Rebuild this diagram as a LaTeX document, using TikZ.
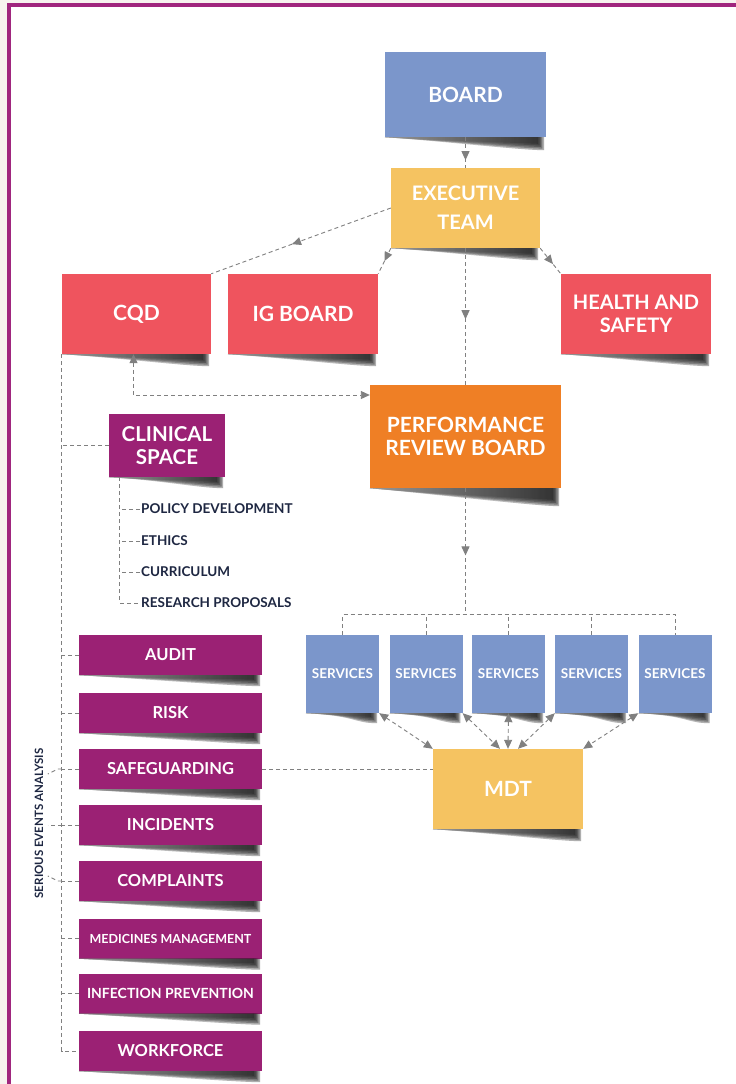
\documentclass[tikz,border=0pt]{standalone}
\usepackage{fontspec}
\setmainfont{Lato}
\usetikzlibrary{arrows.meta,calc,decorations.markings}
\definecolor{cblue}{HTML}{7B96CB}
\definecolor{cyel}{HTML}{F5C361}
\definecolor{cred}{HTML}{EF545E}
\definecolor{corg}{HTML}{EF7F25}
\definecolor{cpur}{HTML}{9B2174}
\definecolor{cframe}{HTML}{A0267E}
\definecolor{cline}{HTML}{808080}
\definecolor{cnavy}{HTML}{1E2742}
\definecolor{cstrip}{HTML}{F7F3EF}
\tikzset{
  box/.style={rectangle, inner sep=0pt, text=white, align=center},
  bigtxt/.style={font=\bfseries\fontsize{21}{25}\selectfont},
  dl/.style={draw=cline, line width=0.9pt, dash pattern=on 4pt off 3pt},
  bitip/.style={arrows={Triangle[length=9pt,width=8pt]-Triangle[length=9pt,width=8pt]}},
  midarr/.style={postaction={decorate,decoration={markings,mark=at position #1 with {\arrow{Triangle[length=9pt,width=8pt]}}}}},
  sub/.style={anchor=west, inner sep=1pt, text=cnavy, font=\bfseries\fontsize{13.5}{15}\selectfont},
  pbox/.style={box, fill=cpur, minimum width=183pt, minimum height=40pt},
  ptxt/.style={font=\bfseries\fontsize{16.5}{18}\selectfont},
  sbox/.style={box, fill=cblue, minimum width=73pt, minimum height=78pt, font=\bfseries\fontsize{13.5}{15}\selectfont},
}
\newcommand\shadowof[2][12]{%
  \foreach \k in {0,...,4}{%
    \fill[left color=white, right color=black!80, opacity=0.2] (#2.south west) -- ($(#2.south east)+(-2-1.5*\k,0)$) -- ($(#2.south east)+(-2-1.5*\k,#1-1.6*\k)$) .. controls ($(#2.south east)+(-25,#1-1.8*\k)$) and ($(#2.south west)+(50,0.25*#1)$) .. (#2.south west);
  }}
\begin{document}
\begin{tikzpicture}[x=1pt,y=-1pt]
\useasboundingbox (0,0) rectangle (736,1084);
\fill[white] (0,0) rectangle (736,1084);
\fill[cstrip] (0,0) rectangle (7,1084);
\fill[cstrip] (0,0) rectangle (736,3.3);
\draw[cframe, line width=4pt] (8.7,1084) -- (8.7,5.3) -- (736,5.3);

% main boxes
\node[box, bigtxt, fill=cblue, minimum width=161pt, minimum height=85pt] (board) at (465.5,94.5) {BOARD};
\node[box, fill=cyel, minimum width=149pt, minimum height=80pt, font=\bfseries\fontsize{20}{29}\selectfont] (exec) at (465.5,208) {EXECUTIVE\\TEAM};
\node[box, bigtxt, fill=cred, minimum width=149pt, minimum height=80pt] (cqd) at (136.5,314) {CQD};
\node[box, bigtxt, fill=cred, minimum width=150pt, minimum height=80pt] (ig) at (303,314) {IG BOARD};
\node[box, bigtxt, fill=cred, minimum width=150pt, minimum height=80pt, font=\bfseries\fontsize{20}{23.5}\selectfont] (hs) at (636,314) {HEALTH AND\\SAFETY};
\node[box, bigtxt, fill=corg, minimum width=191pt, minimum height=103pt, font=\bfseries\fontsize{21}{23.5}\selectfont] (prb) at (465.5,436.5) {PERFORMANCE\\REVIEW BOARD};
\node[sbox] (s1) at (342.5,674) {SERVICES};
\node[sbox] (s2) at (426,674) {SERVICES};
\node[sbox] (s3) at (508.5,674) {SERVICES};
\node[sbox] (s4) at (591.5,674) {SERVICES};
\node[sbox] (s5) at (675,674) {SERVICES};
\node[box, bigtxt, fill=cyel, minimum width=150pt, minimum height=80pt] (mdt) at (508,789) {MDT};
\node[box, fill=cpur, minimum width=116pt, minimum height=63pt, font=\bfseries\fontsize{20.5}{23.5}\selectfont] (clin) at (167,445.5) {CLINICAL\\SPACE};

% clinical sub items
\node[sub] (pd) at (140,509) {POLICY DEVELOPMENT};
\node[sub] (eth) at (140,541) {ETHICS};
\node[sub] (cur) at (140,572) {CURRICULUM};
\node[sub] (rp) at (140,603) {RESEARCH PROPOSALS};

% purple list
\node[pbox, ptxt] (audit) at (170.5,655) {AUDIT};
\node[pbox, ptxt] (risk) at (170.5,713) {RISK};
\node[pbox, ptxt] (safe) at (170.5,769) {SAFEGUARDING};
\node[pbox, ptxt] (inc) at (170.5,825) {INCIDENTS};
\node[pbox, ptxt] (comp) at (170.5,881) {COMPLAINTS};
\node[pbox, font=\bfseries\fontsize{12.5}{14}\selectfont] (med) at (170.5,938.5) {MEDICINES MANAGEMENT};
\node[pbox, font=\bfseries\fontsize{14}{16}\selectfont] (inf) at (170.5,993.5) {INFECTION PREVENTION};
\node[pbox, ptxt] (work) at (170.5,1051) {WORKFORCE};

\node[rotate=90, inner sep=1pt, text=cnavy, font=\bfseries\fontsize{11.5}{13}\selectfont] (sea) at (39,823.5) {SERIOUS EVENTS ANALYSIS};

% shadows
\shadowof[13]{board}
\shadowof[12]{exec}
\shadowof[12]{cqd}
\shadowof[12]{ig}
\shadowof[12]{hs}
\shadowof[18]{prb}
\foreach \n in {s1,s2,s3,s4,s5}{\shadowof[10]{\n}}
\shadowof[12]{mdt}
\shadowof[11]{clin}
\foreach \n in {audit,risk,safe,inc,comp,med,inf,work}{\shadowof[11]{\n}}

% connectors
\draw[dl, midarr=0.75] (board.south) -- (exec.north);
\draw[dl, midarr=0.55] (exec.west) -- (cqd.north east);
\draw[dl, midarr=0.5] (exec.south west) -- (ig.north east);
\draw[dl, midarr=0.62] (exec.south east) -- (hs.north west);
\draw[dl, midarr=0.52] (exec.south) -- (prb.north);
\draw[dl, bitip] ([xshift=-3pt]cqd.south) |- ([yshift=41.5pt]prb.west);

% services bus
\draw[dl, midarr=0.53] (prb.south) -- (prb.south |- 0,615) coordinate (bus);
\draw[dl] (s1.north) -- ++(0,-20) -| (s5.north);
\draw[dl] (s2.north) -- ++(0,-20);
\draw[dl] (s3.north) -- ++(0,-20);
\draw[dl] (s4.north) -- ++(0,-20);

% services <-> MDT
\draw[dl, bitip] (s1.south east) -- (mdt.north west);
\draw[dl, bitip] (s2.south east) -- ([xshift=-8pt]mdt.north);
\draw[dl, bitip] (s3.south) -- (mdt.north);
\draw[dl, bitip] (s4.south west) -- ([xshift=10pt]mdt.north);
\draw[dl, bitip] (s5.south west) -- (mdt.north east);
\draw[dl] (safe.east) -- (safe.east -| mdt.west);

% clinical sub tree
\draw[dl] ([xshift=11pt]clin.south west) |- (rp.west);
\draw[dl] (pd.west) -- ++(-20,0);
\draw[dl] (eth.west) -- ++(-20,0);
\draw[dl] (cur.west) -- ++(-20,0);

% spine
\draw[dl] (cqd.south west) |- (work.west);
\foreach \n in {clin,audit,risk,safe,inc,comp,med,inf}{\draw[dl] (\n.west) -- (\n.west -| cqd.south west);}
\draw[dl] (safe.west -| cqd.south west) -- ++(-4,0) -- ++(-10,5);
\draw[dl] (inc.west -| cqd.south west) -- ++(-14,0);
\draw[dl] (comp.west -| cqd.south west) -- ++(-4,0) -- ++(-10,-5);
\end{tikzpicture}
\end{document}
